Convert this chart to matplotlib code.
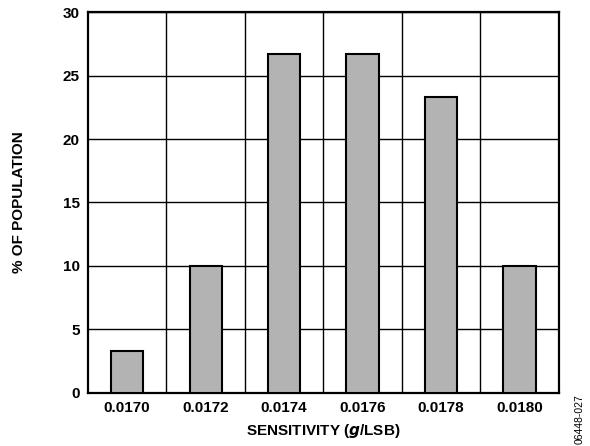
import matplotlib.pyplot as plt
import numpy as np

plt.rcParams['font.family'] = ['Liberation Sans', 'DejaVu Sans']
plt.rcParams['font.weight'] = 'bold'

sensitivity = ['0.0170', '0.0172', '0.0174', '0.0176', '0.0178', '0.0180']
population = [3.33, 10.0, 26.67, 26.67, 23.33, 10.0]
y_ticks = [0, 5, 10, 15, 20, 25, 30]

fig = plt.figure(figsize=(5.9, 4.46), dpi=100)
ax = fig.add_axes([0.149, 0.119, 0.798, 0.854])

x = np.arange(len(sensitivity))
ax.bar(x, population, width=0.41, color='#b3b3b3', edgecolor='black',
       linewidth=1.5, zorder=3)

ax.set_xlim(-0.5, len(sensitivity) - 0.5)
ax.set_ylim(0, 30)
ax.set_yticks(y_ticks)
ax.set_xticks(x)
ax.set_xticklabels(sensitivity)
ax.set_xticks(x[:-1] + 0.5, minor=True)

ax.grid(True, axis='y', which='major', color='black', linewidth=1.0, zorder=0)
ax.grid(True, axis='x', which='minor', color='black', linewidth=1.0, zorder=0)
ax.tick_params(axis='both', which='both', length=0, labelsize=11, pad=6)
for s in ax.spines.values():
    s.set_linewidth(1.6)

ax.set_xlabel('SENSITIVITY ($\\mathbfit{g}$/LSB)', fontsize=11,
              fontweight='bold', labelpad=5)
ax.set_ylabel('% OF POPULATION', fontsize=11, fontweight='bold', labelpad=26)

fig.text(0.983, 0.06, '06448-027', rotation=90, fontsize=7.5,
         fontweight='normal', ha='center', va='center')

fig.savefig('out.png', dpi=100)
